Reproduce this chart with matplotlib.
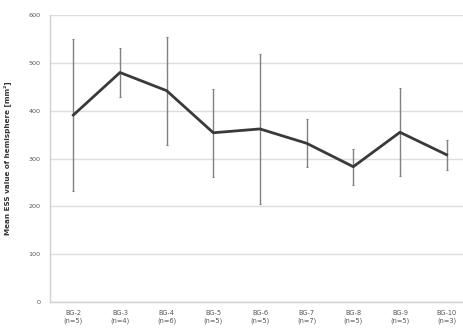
import matplotlib
matplotlib.use("Agg")
import matplotlib.pyplot as plt
import numpy as np

groups = ["BG-2", "BG-3", "BG-4", "BG-5", "BG-6", "BG-7", "BG-8", "BG-9", "BG-10"]
counts = [5, 4, 6, 5, 5, 7, 5, 5, 3]
means = [391, 480, 442, 354, 362, 332, 283, 355, 308]
sds = [159, 51, 113, 92, 157, 50, 38, 92, 31]
yticks = [0, 100, 200, 300, 400, 500, 600]

labels = [f"{g}\n(n={n})" for g, n in zip(groups, counts)]
x = np.arange(len(groups))

fig = plt.figure(figsize=(4.63, 3.29), dpi=100)
ax = fig.add_axes([0.108, 0.082, 0.907, 0.872])

ax.errorbar(x, means, yerr=sds, fmt="none", ecolor="#808080", elinewidth=1.0,
            capsize=0.8, capthick=0.8, zorder=2)
ax.plot(x, means, color="#3a3a3a", linewidth=2.0, zorder=3)

ax.set_xlim(-0.5, len(groups) - 0.5)
ax.set_ylim(0, 600)
ax.set_yticks(yticks)
ax.set_xticks(x)
ax.set_xticklabels(labels, fontsize=4.8, color="#555555", linespacing=1.25)
ax.tick_params(axis="y", labelsize=4.6, colors="#555555", length=0, pad=7)
ax.tick_params(axis="x", length=0, pad=6)
ax.grid(axis="y", color="#dddddd", linewidth=1.0)
ax.set_axisbelow(True)

for side in ("top", "right"):
    ax.spines[side].set_visible(False)
for side in ("left", "bottom"):
    ax.spines[side].set_color("#d0d0d0")
    ax.spines[side].set_linewidth(1.0)

ax.set_ylabel("Mean ESS value of hemisphere [mm²]", fontsize=5.2,
              color="#333333", fontweight="bold", labelpad=12)

fig.savefig("out.png", dpi=100)
